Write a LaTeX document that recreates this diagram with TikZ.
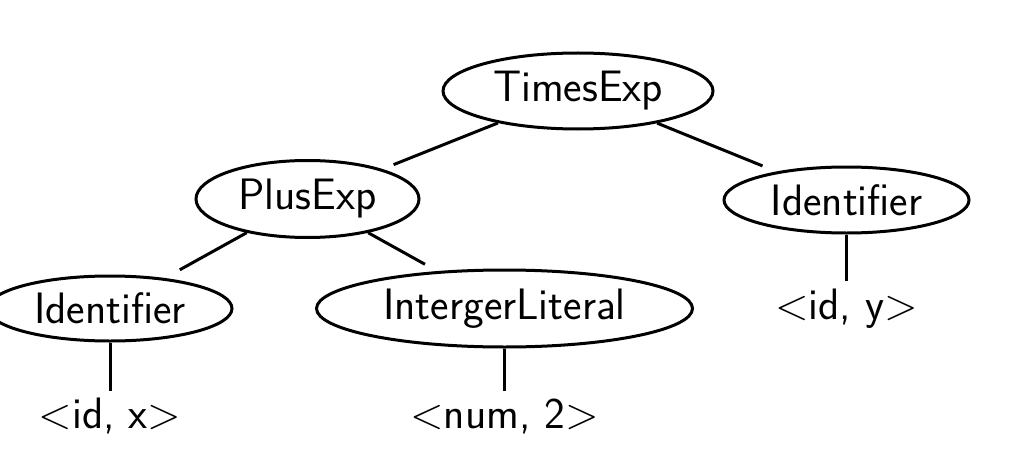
\documentclass[tikz,border=0pt]{standalone}
\usetikzlibrary{shapes.geometric}
\begin{document}
\begin{tikzpicture}[x=1pt,y=-1pt,
  lbl/.style={font=\fontsize{44}{52}\selectfont\sffamily},
  enode/.style={lbl,ellipse,draw,line width=3pt,inner sep=0pt},
  leaf/.style={lbl,inner sep=0pt,anchor=base},
  edge/.style={line width=3pt}]
\useasboundingbox (0,0) rectangle (1016,468);
\node[enode,minimum width=270,minimum height=76] (T) at (578,91) {TimesExp};
\node[enode,minimum width=223,minimum height=77] (P) at (307.5,199) {PlusExp};
\node[enode,minimum width=245,minimum height=66] (IR) at (846.5,200) {Identifier};
\node[enode,minimum width=244,minimum height=65] (IL) at (110,308.5) {Identifier};
\node[enode,minimum width=376,minimum height=77] (L) at (504.5,308.5) {IntergerLiteral};
\node[leaf] (idy) at (846.5,319) {\textless id, y\textgreater};
\node[leaf] (idx) at (110,428) {\textless id, x\textgreater};
\node[leaf] (num) at (504.5,428) {\textless num, 2\textgreater};
\draw[edge,shorten >=12pt] (T) -- (P);
\draw[edge,shorten >=15pt] (T) -- (IR);
\draw[edge,shorten >=17pt] (P) -- (IL);
\draw[edge,shorten >=14pt] (P) -- (L);
\draw[edge,shorten >=7pt] (IR) -- (idy);
\draw[edge,shorten >=6pt] (IL) -- (idx);
\draw[edge,shorten >=7pt] (L) -- (num);
\end{tikzpicture}
\end{document}
